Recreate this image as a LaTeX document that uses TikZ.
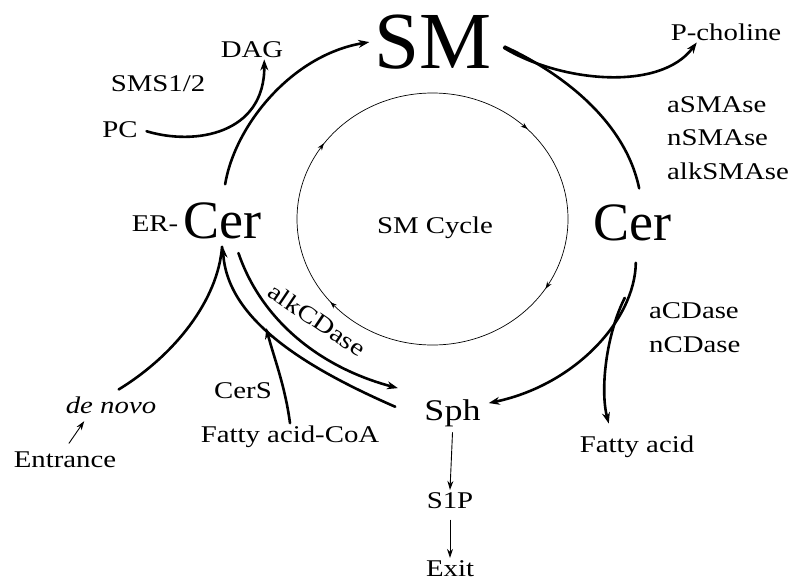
\documentclass[tikz,border=0pt]{standalone}
\usepackage{fontspec}
\setmainfont{Liberation Serif}
\newfontfamily\lblfont[FakeStretch=1.2]{Liberation Serif}
\usetikzlibrary{arrows.meta,decorations.markings}

\begin{document}
\begin{tikzpicture}[x=1pt, y=-1pt, >={Stealth[length=11pt,width=8pt]}, line cap=round,
    lbl/.style={font=\lblfont\fontsize{24}{28}\selectfont, inner sep=2pt, anchor=base},
    cer/.style={font=\fontsize{54}{60}\selectfont, inner sep=2pt, anchor=base},
    flow/.style={line width=2.6pt},
    small/.style={line width=0.9pt, -{Stealth[length=9pt,width=6pt]}},
    smcyc/.style={line width=0.7pt, postaction={decorate}, decoration={markings,
        mark=at position 0.132 with {\arrow{Stealth[length=7pt,width=5pt,reversed]}},
        mark=at position 0.409 with {\arrow{Stealth[length=7pt,width=5pt,reversed]}},
        mark=at position 0.620 with {\arrow{Stealth[length=7pt,width=5pt,reversed]}},
        mark=at position 0.918 with {\arrow{Stealth[length=7pt,width=5pt,reversed]}}}}]
    \useasboundingbox (0,0) rectangle (789,581);

    % Nodes {sm, cerL, cerR, sph, etc}
    \node [font=\fontsize{81}{90}\selectfont, inner sep=2pt, anchor=base] (sm) at (433,68) {SM};
    \node [cer]                      (cerR)   at (632.5,240) {Cer};
    \node [cer]                      (cerL)   at (222.5,238) {Cer};
    \node [lbl]                      (er)     at (155,231)   {ER-};
    \node [lbl]                      (dag)    at (252,57)    {DAG};
    \node [lbl]                      (sms)    at (158,91)    {SMS1/2};
    \node [lbl]                      (pc)     at (120,137)   {PC};
    \node [lbl]                      (pcho)   at (726,40)    {P-choline};
    \node [lbl, anchor=base west]    (asm)    at (665,112)   {aSMAse};
    \node [lbl, anchor=base west]    (nsm)    at (665,145.5) {nSMAse};
    \node [lbl, anchor=base west]    (alksm)  at (665,179)   {alkSMAse};
    \node [lbl]                      (cyc)    at (435,233)   {SM Cycle};
    \node [lbl, anchor=base west]    (acd)    at (647,318)   {aCDase};
    \node [lbl, anchor=base west]    (ncd)    at (647,352)   {nCDase};
    \node [lbl]                      (fa)     at (637,452)   {Fatty acid};
    \node [lbl, font=\lblfont\fontsize{30}{34}\selectfont, inner xsep=8pt, inner ysep=6pt]
                                     (sph)    at (452.5,420) {Sph};
    \node [lbl]                      (s1p)    at (450,508)   {S1P};
    \node [lbl]                      (exit)   at (450,576)   {Exit};
    \node [lbl, anchor=center, rotate=-34, inner sep=0pt] (alkcd) at (317,320) {alkCDase};
    \node [lbl]                      (cers)   at (243,398)   {CerS};
    \node [lbl]                      (faco)   at (290,442)   {Fatty acid-CoA};
    \node [lbl]                      (denovo) at (111,413)   {\itshape de novo};
    \node [lbl]                      (entr)   at (65,467)    {Entrance};

    % SM cycle
    \draw [smcyc] (432.5,219) ellipse [x radius=135.5pt, y radius=126pt];

    % Paths
    \draw [flow, ->, shorten <=16pt, shorten >=3pt] (cerL.north) .. controls (235,125) and (292,55) .. (sm.west);
    \draw [flow, shorten <=12pt, shorten >=14pt] (sm.east) .. controls (560,72) and (625,120) .. (cerR.65);
    \draw [flow, ->, shorten <=12pt] (sm.east) .. controls (560,82) and (660,92) .. (pcho.200);
    \draw [flow, ->, shorten <=20pt] (cerR.-80) .. controls (635,320) and (575,385) .. coordinate[pos=0.25] (fabr) (sph.15);
    \draw [flow, ->, shorten >=10pt] (fabr) .. controls (606,335) and (600,390) .. (fa.153);
    \draw [flow, ->, shorten <=13pt, shorten >=19pt] (cerL.-60) .. controls (262,322) and (322,368) .. (sph.north west);
    \draw [flow, ->, shorten <=23pt, shorten >=6pt] (sph.185) .. controls (306.5,368) and (227,320) .. coordinate[pos=0.57] (cersbr) (cerL.south);
    \draw [flow, ->] (faco.north) .. controls (285,385) and (273,355) .. (cersbr);
    \draw [flow, shorten <=9pt, shorten >=6pt] (denovo.north) .. controls (175,355) and (218,300) .. (cerL.south);
    \draw [flow, ->, shorten <=7pt] (pc.east) .. controls (195,146) and (265,134) .. (dag.-40);
    \draw [small, shorten <=7pt, shorten >=7pt] (entr.north) -- (denovo.205);
    \draw [small] (sph.south) -- (s1p.north);
    \draw [small, shorten <=10pt] (s1p.south) -- (exit.north);

\end{tikzpicture}
\end{document}
